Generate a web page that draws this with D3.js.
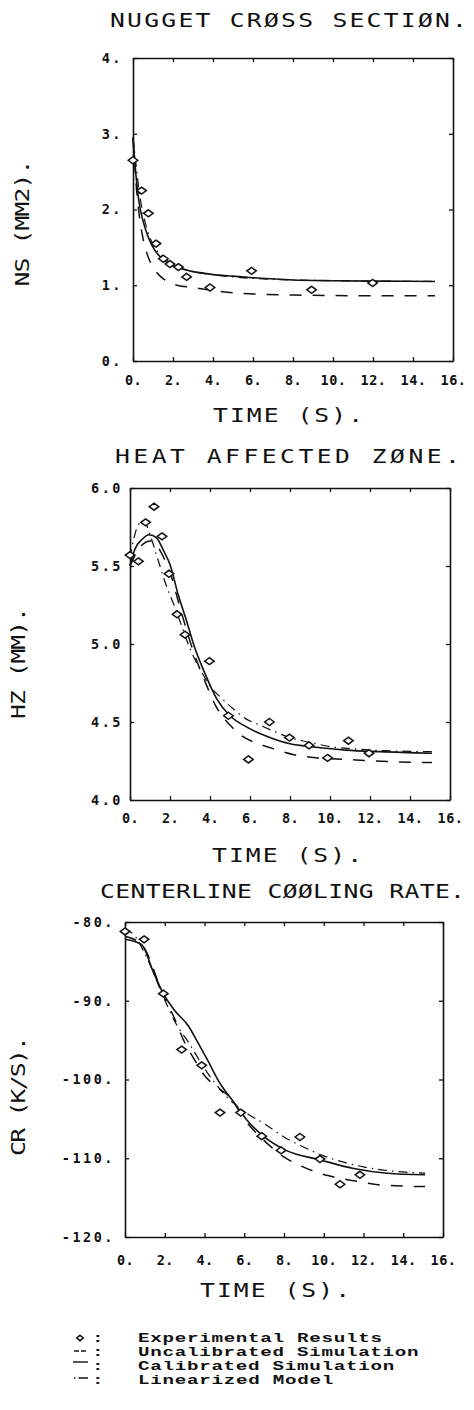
<!DOCTYPE html>
<html>
<head>
<meta charset="utf-8">
<script src="https://cdn.jsdelivr.net/npm/d3@7"></script>
<style>
  body { margin: 0; background: #fff; }
  svg text { fill: #111; }
</style>
</head>
<body>
<script>
// shared time axis (s)
var timeTicks = [0, 2, 4, 6, 8, 10, 12, 14, 16];

// y ticks of each panel
var nsTicks = [0, 1, 2, 3, 4];
var hzTicks = [4.0, 4.5, 5.0, 5.5, 6.0];
var crTicks = [-120, -110, -100, -90, -80];

// nugget cross section (mm2), [time, value]
var nsExperimental = [[0, 2.65], [0.43, 2.25], [0.77, 1.95], [1.15, 1.55], [1.52, 1.35], [1.85, 1.28],
  [2.27, 1.24], [2.68, 1.11], [3.85, 0.97], [5.93, 1.19], [8.93, 0.94], [11.98, 1.03]];
var nsUncalibrated = [[0, 2.95], [0.15, 2.35], [0.3, 1.95], [0.5, 1.62], [0.75, 1.38], [1, 1.24], [1.4, 1.11],
  [1.8, 1.04], [2.2, 1.0], [3, 0.97], [4, 0.93], [5, 0.9], [6, 0.885], [8, 0.87], [10, 0.865], [12, 0.86], [15.1, 0.86]];
var nsCalibrated = [[0, 2.95], [0.15, 2.45], [0.3, 2.1], [0.5, 1.85], [0.7, 1.68], [1, 1.5], [1.5, 1.34], [2, 1.26],
  [2.5, 1.21], [3, 1.18], [3.5, 1.16], [4, 1.14], [5, 1.12], [6, 1.1], [8, 1.07], [10, 1.06], [12, 1.055], [15.1, 1.05]];
var nsLinearized = [[0, 2.95], [0.15, 2.6], [0.3, 2.25], [0.5, 1.95], [0.75, 1.7], [1, 1.54], [1.5, 1.37], [2, 1.28],
  [2.5, 1.22], [3, 1.18], [4, 1.14], [5, 1.11], [6, 1.09], [8, 1.07], [10, 1.06], [12, 1.055], [15.1, 1.05]];

// heat affected zone (mm)
var hzExperimental = [[0, 5.57], [0.42, 5.53], [0.78, 5.78], [1.2, 5.88], [1.6, 5.69], [1.95, 5.45], [2.35, 5.19],
  [2.75, 5.06], [3.97, 4.89], [4.92, 4.54], [5.92, 4.26], [6.97, 4.5], [7.97, 4.4], [8.95, 4.35], [9.88, 4.27],
  [10.92, 4.38], [11.95, 4.3]];
var hzUncalibrated = [[0, 5.5], [0.3, 5.58], [0.65, 5.64], [1, 5.66], [1.35, 5.63], [1.7, 5.55], [2, 5.46], [2.4, 5.28],
  [2.85, 5.08], [3.2, 4.94], [3.75, 4.76], [4.3, 4.6], [5, 4.48], [5.5, 4.42], [6.2, 4.37], [6.9, 4.34], [8.2, 4.29],
  [9.4, 4.27], [10.8, 4.26], [12.2, 4.25], [15.1, 4.24]];
var hzCalibrated = [[0, 5.5], [0.25, 5.61], [0.6, 5.67], [0.95, 5.7], [1.33, 5.68], [1.67, 5.6], [2, 5.51], [2.4, 5.32],
  [2.85, 5.14], [3.2, 4.99], [3.75, 4.81], [4.33, 4.65], [5, 4.54], [5.8, 4.47], [6.8, 4.41], [8, 4.36], [9.2, 4.34],
  [10.8, 4.32], [12.5, 4.31], [15.1, 4.3]];
var hzLinearized = [[0, 5.55], [0.2, 5.68], [0.4, 5.76], [0.7, 5.79], [1, 5.7], [1.4, 5.54], [1.8, 5.38], [2.2, 5.25],
  [2.6, 5.11], [3, 4.97], [3.5, 4.84], [4, 4.73], [4.6, 4.65], [5.2, 4.58], [5.8, 4.52], [6.5, 4.48], [7.2, 4.44],
  [8, 4.4], [8.6, 4.38], [9.5, 4.355], [10.1, 4.34], [11, 4.33], [12, 4.32], [13, 4.315], [15.1, 4.31]];

// centerline cooling rate (K/s)
var crExperimental = [[0, -81.2], [0.96, -82.2], [1.93, -89.1], [2.85, -96.2], [3.86, -98.2], [4.78, -104.2],
  [5.82, -104.2], [6.88, -107.2], [7.85, -109.0], [8.8, -107.3], [9.81, -110.1], [10.82, -113.3], [11.82, -112.1]];
var crUncalibrated = [[0, -81.8], [0.85, -82.9], [1.93, -89.3], [2.5, -92.3], [3, -95.3], [3.5, -97.5], [4, -99.5],
  [4.6, -100.9], [5.3, -102.3], [6.05, -105.2], [6.9, -107.5], [7.8, -109.5], [8.96, -111.1], [10.2, -112.2],
  [11.6, -112.9], [12.9, -113.4], [15.1, -113.6]];
var crCalibrated = [[0, -82.2], [0.85, -82.9], [1.4, -86.2], [1.93, -89.1], [2.52, -91.3], [3.19, -93.2], [3.69, -95.4],
  [4.19, -97.7], [4.78, -100.5], [5.45, -102.8], [6.12, -105.1], [6.96, -107.2], [8.1, -109], [9.8, -110.2],
  [11.5, -111.3], [13.2, -111.9], [15.1, -112.1]];
var crLinearized = [[0, -80.8], [0.5, -81.8], [1, -84], [1.93, -89.5], [2.5, -92.6], [3.2, -95.3], [4, -98.6],
  [4.8, -101.3], [5.5, -103.1], [6.2, -104.4], [7, -105.6], [8, -107.3], [9, -108.6], [10, -109.7], [11, -110.5],
  [12, -111.1], [13, -111.5], [15.1, -111.9]];

var legendLabels = ["Experimental Results", "Uncalibrated Simulation", "Calibrated Simulation", "Linearized Model"];

var plotFont = "'DejaVu Sans Mono', monospace";

var panels = [
  { title: "NUGGET CRØSS SECTIØN.", ylabel: "NS (MM2).", ticks: nsTicks, domain: [0, 4], fmt: function(d) { return d + "."; },
    exp: nsExperimental, unc: nsUncalibrated, cal: nsCalibrated, lin: nsLinearized,
    x0: 133, x1: 453, y0: 58, y1: 361, padX: 14, padY: 10,
    titleX: 110, titleLen: 357, titleY: 27, timeX: 213, timeY: 422, ylX: 22, ylY: 223, ylLen: 127 },
  { title: "HEAT AFFECTED ZØNE.", ylabel: "HZ (MM).", ticks: hzTicks, domain: [4, 6], fmt: d3.format(".1f"),
    exp: hzExperimental, unc: hzUncalibrated, cal: hzCalibrated, lin: hzLinearized,
    x0: 130, x1: 450, y0: 488, y1: 800, padX: 13, padY: 7,
    titleX: 115, titleLen: 345, titleY: 463, timeX: 212, timeY: 862, ylX: 18, ylY: 663, ylLen: 112 },
  { title: "CENTERLINE CØØLING RATE.", ylabel: "CR (K/S).", ticks: crTicks, domain: [-120, -80], fmt: function(d) { return d + "."; },
    exp: crExperimental, unc: crUncalibrated, cal: crCalibrated, lin: crLinearized,
    x0: 125, x1: 443, y0: 922, y1: 1237, padX: 18, padY: 10,
    titleX: 100, titleLen: 365, titleY: 898, timeX: 200, timeY: 1297, ylX: 18, ylY: 1096, ylLen: 120 }
];

var svg = d3.select("body").append("svg")
  .attr("width", 474)
  .attr("height", 1410);

function styleAxis(g) {
  g.select(".domain").attr("stroke", "#111").attr("stroke-width", 1.6);
  g.selectAll(".tick line").attr("stroke", "#111").attr("stroke-width", 1.3);
  g.selectAll("text")
    .attr("font-family", plotFont)
    .attr("font-weight", "bold")
    .attr("font-size", 13.5)
    .attr("fill", "#111");
}

function diamond(sel) {
  sel.attr("d", d3.symbol().type(d3.symbolSquare).size(34))
    .attr("fill", "#fff")
    .attr("stroke", "#111")
    .attr("stroke-width", 1.5)
    .attr("vector-effect", "non-scaling-stroke");
}

// plotter lettering is wider than the font, so stretch it sideways
var stretch = 1.3;
function plotterText(parent, x, y, len, rot, str) {
  return parent.append("text")
    .attr("transform", "translate(" + x + "," + y + ")" + (rot ? " rotate(-90)" : "") + " scale(" + stretch + ",1)")
    .attr("text-anchor", rot ? "middle" : "start")
    .attr("textLength", len / stretch).attr("lengthAdjust", "spacing")
    .attr("font-family", plotFont).attr("font-size", 19)
    .text(str);
}

panels.forEach(function(p) {
  var x = d3.scaleLinear().domain([0, 16]).range([p.x0, p.x1]);
  var y = d3.scaleLinear().domain(p.domain).range([p.y1, p.y0]);
  var g = svg.append("g");

  // frame made of four axes with inward ticks
  g.append("g").attr("transform", "translate(0," + p.y1 + ")")
    .call(d3.axisBottom(x).tickValues(timeTicks).tickSize(-4).tickSizeOuter(0).tickPadding(p.padX)
      .tickFormat(function(d) { return d + "."; }))
    .call(styleAxis)
    .selectAll("text").attr("letter-spacing", 0.5);
  g.append("g").attr("transform", "translate(0," + p.y0 + ")")
    .call(d3.axisTop(x).tickValues(timeTicks).tickSize(-4).tickSizeOuter(0).tickFormat(""))
    .call(styleAxis);
  g.append("g").attr("transform", "translate(" + p.x0 + ",0)")
    .call(d3.axisLeft(y).tickValues(p.ticks).tickSize(-4).tickSizeOuter(0).tickPadding(p.padY).tickFormat(p.fmt))
    .call(styleAxis)
    .selectAll("text").attr("letter-spacing", 2.5);
  g.append("g").attr("transform", "translate(" + p.x1 + ",0)")
    .call(d3.axisRight(y).tickValues(p.ticks).tickSize(-4).tickSizeOuter(0).tickFormat(""))
    .call(styleAxis);

  var line = d3.line()
    .x(function(d) { return x(d[0]); })
    .y(function(d) { return y(d[1]); })
    .curve(d3.curveMonotoneX);

  g.append("path").datum(p.unc).attr("d", line)
    .attr("fill", "none").attr("stroke", "#111").attr("stroke-width", 1.5)
    .attr("stroke-dasharray", "12,11");
  g.append("path").datum(p.lin).attr("d", line)
    .attr("fill", "none").attr("stroke", "#111").attr("stroke-width", 1.2)
    .attr("stroke-dasharray", "9,5,1.5,5");
  g.append("path").datum(p.cal).attr("d", line)
    .attr("fill", "none").attr("stroke", "#111").attr("stroke-width", 1.6);

  g.selectAll(".exp").data(p.exp).enter().append("path")
    .attr("class", "exp")
    .attr("transform", function(d) {
      return "translate(" + x(d[0]) + "," + y(d[1]) + ") scale(1.15,0.85) rotate(45)";
    })
    .call(diamond);

  // titles
  plotterText(g, p.titleX, p.titleY, p.titleLen, false, p.title);
  plotterText(g, p.timeX, p.timeY, 150, false, "TIME (S).");
  plotterText(g, p.ylX + 7, p.ylY, p.ylLen, true, p.ylabel);
});

// legend, typewriter lettering stretched to the original width
var legendFont = "'Liberation Mono', monospace";
var legendTop = 1342, legendStep = 14, legendStretch = 1.55;
var legend = svg.append("g");
legendLabels.forEach(function(label, i) {
  var by = legendTop + i * legendStep;
  legend.append("text")
    .attr("transform", "translate(92," + by + ") scale(" + legendStretch + ",1)")
    .attr("font-family", legendFont).attr("font-weight", "bold").attr("font-size", 12.4)
    .text(":");
  legend.append("text")
    .attr("transform", "translate(138," + by + ") scale(" + legendStretch + ",1)")
    .attr("font-family", legendFont).attr("font-weight", "bold").attr("font-size", 12.4)
    .attr("textLength", label.length * 12.2 / legendStretch).attr("lengthAdjust", "spacing")
    .text(label);
});
legend.append("path")
  .attr("transform", "translate(80," + (legendTop - 4) + ") scale(0.8,0.65) rotate(45)")
  .call(diamond);
legend.append("path")
  .attr("d", "M74," + (legendTop + legendStep - 5) + "H88")
  .attr("stroke", "#111").attr("stroke-width", 1.6).attr("stroke-dasharray", "5,2");
legend.append("path")
  .attr("d", "M73," + (legendTop + 2 * legendStep - 8) + "H88")
  .attr("stroke", "#111").attr("stroke-width", 1.4);
legend.append("path")
  .attr("d", "M74," + (legendTop + 3 * legendStep - 6) + "H88")
  .attr("stroke", "#111").attr("stroke-width", 1.6).attr("stroke-dasharray", "1.5,3,10");
</script>
</body>
</html>
